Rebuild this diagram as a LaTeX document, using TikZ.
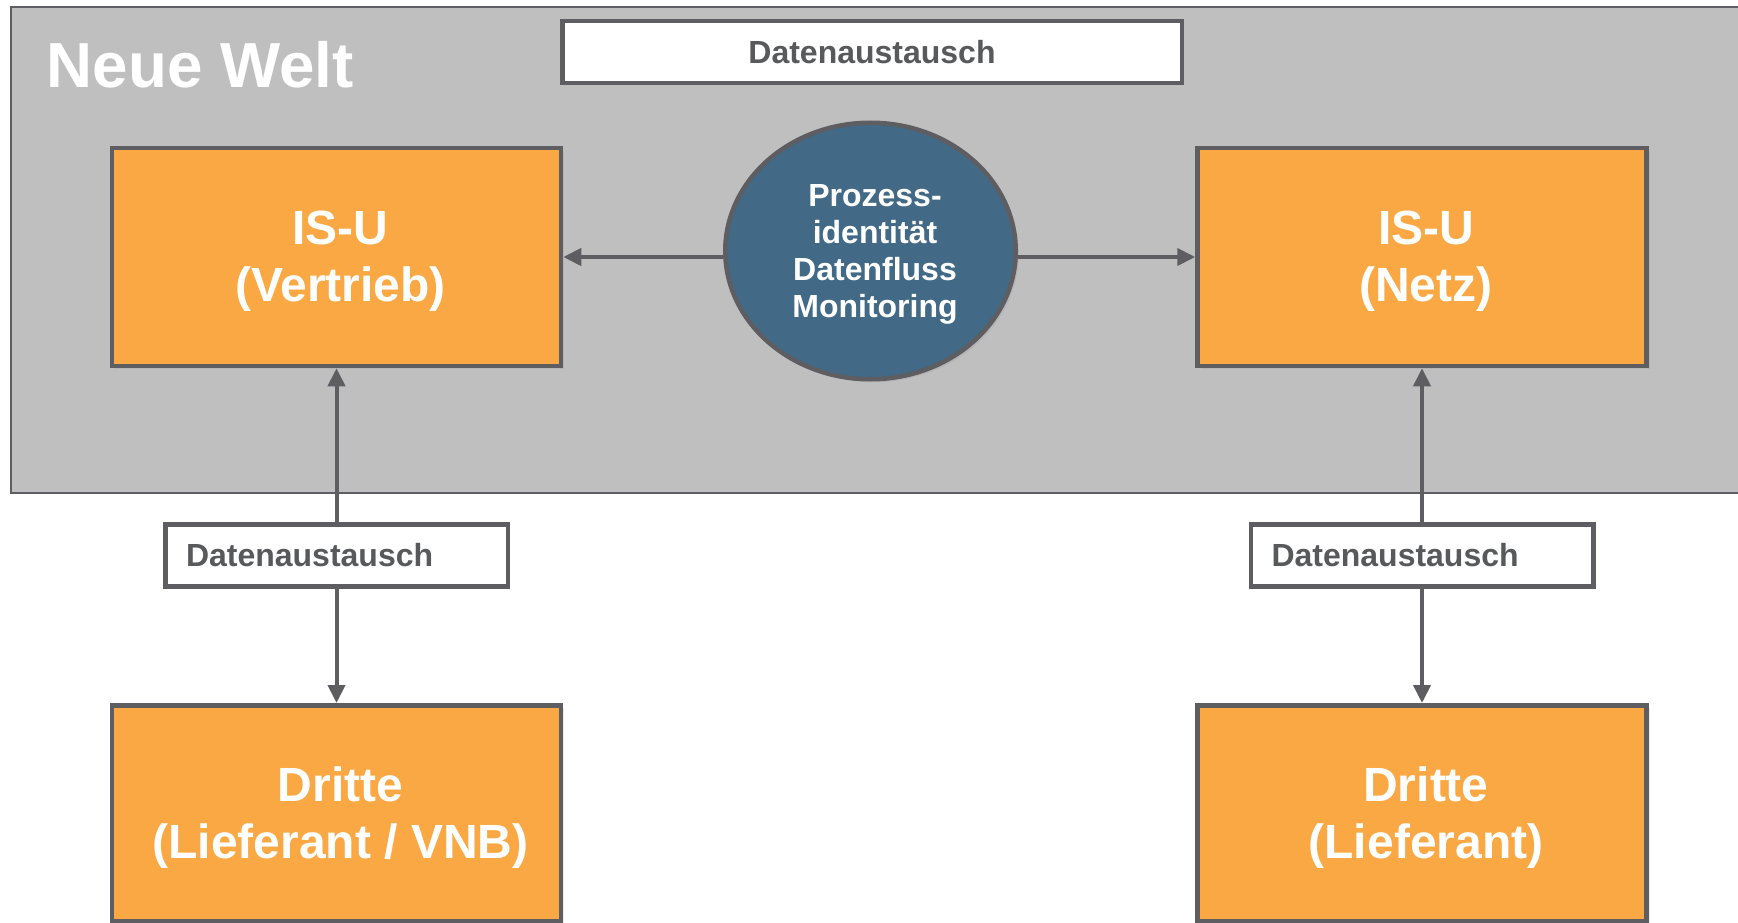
\documentclass[tikz,border=0pt]{standalone}
\usepackage{fontspec}
\setmainfont{Liberation Sans}
\usetikzlibrary{arrows.meta, shapes.geometric, shadows}

\definecolor{weltgrey}{RGB}{191,191,191}
\definecolor{isuorange}{RGB}{250,168,67}
\definecolor{linegrey}{RGB}{93,93,98}
\definecolor{prozessblue}{RGB}{66,105,133}
\definecolor{textgrey}{RGB}{88,89,91}

\begin{document}
\begin{tikzpicture}[x=1pt, y=-1pt]

\tikzstyle{system}=[draw=linegrey, line width=4.5pt, fill=isuorange,
  minimum width=449pt, minimum height=218pt, inner sep=0pt,
  drop shadow={shadow xshift=3pt, shadow yshift=-3pt, opacity=0.15}]
\tikzstyle{systemtext}=[text=white, align=center, inner sep=0pt,
  font=\bfseries\fontsize{48}{57}\selectfont]
\tikzstyle{exchange}=[draw=linegrey, line width=4.5pt, fill=white, text=textgrey,
  minimum height=62pt, inner sep=0pt, font=\bfseries\fontsize{32}{38}\selectfont]
\tikzstyle{exchangeleft}=[exchange, text width=301pt, align=left, inner xsep=20.75pt]
\tikzstyle{edge}=[draw=linegrey, line width=4pt, -{Triangle[width=17pt, length=18pt]}]

\useasboundingbox (0, 0) rectangle (1738, 923);
\clip (0, 0) rectangle (1738, 923);

% Hintergrund
\path [draw=linegrey, line width=2pt, fill=weltgrey] (11, 7) rectangle (1760, 493);
\node [anchor=base west, text=white, inner sep=0pt, font=\bfseries\fontsize{63.7}{75}\selectfont]
  (neuewelt) at (46.5, 88) {Neue Welt};

\node [exchange, minimum width=619.5pt] (austausch) at (872, 52) {Datenaustausch};

\node [system] (isuvertrieb)    at ( 336.5, 257) {};
\node [system] (isunetz)        at (1422,   257) {};
\node [system, minimum height=215.5pt] (drittevertrieb) at ( 336.5, 813) {};
\node [system, minimum height=215.5pt] (drittenetz)     at (1422,   813) {};

\node [systemtext] (isuvertriebtext)    at ([xshift=4pt, yshift=-4.5pt] isuvertrieb.center)    {IS-U\\(Vertrieb)};
\node [systemtext] (isunetztext)        at ([xshift=4pt, yshift=-4.5pt] isunetz.center)        {IS-U\\(Netz)};
\node [systemtext] (drittevertriebtext) at ([xshift=4pt, yshift=-4.5pt] drittevertrieb.center) {Dritte\\(Lieferant / VNB)};
\node [systemtext] (drittenetztext)     at ([xshift=4pt, yshift=-4.5pt] drittenetz.center)     {Dritte\\(Lieferant)};

\node [ellipse, draw=linegrey, line width=4.5pt, fill=prozessblue,
  minimum width=290.5pt, minimum height=256.5pt, inner sep=0pt,
  drop shadow={shadow xshift=3pt, shadow yshift=-3pt, opacity=0.15}]
  (prozess) at (870.5, 251) {};
\node [text=white, align=center, inner sep=0pt, font=\bfseries\fontsize{32}{37}\selectfont]
  (prozesstext) at ([xshift=4.5pt, yshift=-3.5pt] prozess.center) {Prozess-\\identität\\Datenfluss\\Monitoring};

\node [exchangeleft] (austauschvertrieb) at ( 336.5, 555.5) {Datenaustausch};
\node [exchangeleft] (austauschnetz)     at (1422,   555.5) {Datenaustausch};

\path [edge] (prozess.west |- isuvertrieb.east) -- (isuvertrieb.east);
\path [edge] (prozess.east |- isunetz.west) -- (isunetz.west);

\path [edge] (austauschvertrieb) -- (isuvertrieb.south);
\path [edge] (austauschvertrieb) -- (drittevertrieb.north);
\path [edge] (austauschnetz) -- (isunetz.south);
\path [edge] (austauschnetz) -- (drittenetz.north);

\end{tikzpicture}
\end{document}
